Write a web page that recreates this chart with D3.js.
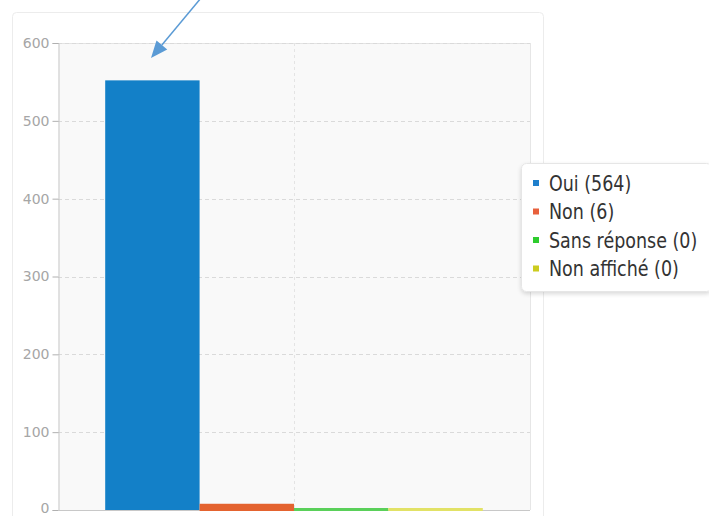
<!DOCTYPE html>
<html>
<head>
<meta charset="utf-8">
<script src="https://cdn.jsdelivr.net/npm/d3@7"></script>
<style>
  html, body { margin: 0; padding: 0; background: #ffffff; }
  svg { display: block; }
</style>
</head>
<body>
<svg id="chart" width="709" height="516"></svg>
<script>
// ---- data ----
const categories = ["Oui", "Non", "Sans réponse", "Non affiché"];
const barValues = [552, 8, 0, 0];          // heights as drawn in the picture
const legendCounts = [564, 6, 0, 0];       // counts shown in the legend
const yTicks = [0, 100, 200, 300, 400, 500, 600];
const barColors = ["#1380c8", "#e4632f", "#5ad05a", "#e2e266"];
const legendColors = ["#1f7fcc", "#e8603c", "#2ecc2e", "#cccc1f"];

const svg = d3.select("#chart");
const plot = { left: 58, right: 530, top: 43, bottom: 510 };

const defs = svg.append("defs");
const flt = defs.append("filter").attr("id", "shadow").attr("x", "-10%").attr("y", "-10%").attr("width", "130%").attr("height", "130%");
flt.append("feDropShadow").attr("dx", 0).attr("dy", 2).attr("stdDeviation", 2).attr("flood-color", "#000").attr("flood-opacity", 0.15);

// outer panel
svg.append("rect")
  .attr("x", 12.5).attr("y", 12.5).attr("width", 531).attr("height", 520)
  .attr("rx", 4).attr("fill", "#ffffff").attr("stroke", "#ececec");

// plot background
svg.append("rect")
  .attr("x", plot.left).attr("y", plot.top)
  .attr("width", plot.right - plot.left).attr("height", plot.bottom - plot.top)
  .attr("fill", "#f9f9f9");
svg.append("line")
  .attr("x1", plot.left).attr("x2", plot.right).attr("y1", plot.top + 0.5).attr("y2", plot.top + 0.5)
  .attr("stroke", "#e4e4e4");
svg.append("line")
  .attr("x1", plot.right + 0.5).attr("x2", plot.right + 0.5).attr("y1", plot.top).attr("y2", plot.bottom)
  .attr("stroke", "#e6e6e6");

// scales
const y = d3.scaleLinear().domain([0, 600]).range([plot.bottom, plot.top]);
const xOuter = d3.scaleBand().domain(["g"]).range([plot.left, plot.right]).paddingInner(0.2).paddingOuter(0.1);
const x = d3.scaleBand().domain(categories).range([xOuter("g"), xOuter("g") + xOuter.bandwidth()]);

// horizontal grid
svg.append("g").selectAll("line").data(yTicks.filter(d => d > 0)).join("line")
  .attr("x1", plot.left).attr("x2", plot.right)
  .attr("y1", d => Math.round(y(d)) + 0.5).attr("y2", d => Math.round(y(d)) + 0.5)
  .attr("stroke", "#dadada").attr("stroke-dasharray", "4,3");
// vertical grid (centre)
const cx = (plot.left + plot.right) / 2;
svg.append("line")
  .attr("x1", Math.round(cx) + 0.5).attr("x2", Math.round(cx) + 0.5)
  .attr("y1", plot.top).attr("y2", plot.bottom)
  .attr("stroke", "#e4e4e4").attr("stroke-dasharray", "3,3");

// y axis
const yAxis = d3.axisLeft(y).tickValues(yTicks).tickSize(6).tickPadding(3);
const ga = svg.append("g").attr("transform", `translate(${plot.left + 0.5},0)`).call(yAxis);
ga.select(".domain").attr("stroke", "#c8c8c8");
ga.selectAll(".tick line").attr("stroke", "#b0b0b0");
ga.selectAll(".tick text").attr("fill", "#a6a6a6")
  .attr("font-family", "DejaVu Sans, sans-serif").attr("font-size", 14)
  .attr("dy", d => d === 0 ? "0.2em" : "0.32em");

// x axis baseline
svg.append("line")
  .attr("x1", plot.left).attr("x2", plot.right)
  .attr("y1", plot.bottom + 0.5).attr("y2", plot.bottom + 0.5)
  .attr("stroke", "#c8c8c8");

// bars
svg.append("g").selectAll("rect").data(categories).join("rect")
  .attr("x", d => x(d))
  .attr("width", x.bandwidth())
  .attr("y", (d, i) => Math.min(y(barValues[i]), plot.bottom - 2))
  .attr("height", (d, i) => Math.max(plot.bottom - y(barValues[i]), 2) + (barValues[i] < 10 ? 1 : 0))
  .attr("fill", (d, i) => barColors[i]);

// legend
const lg = svg.append("g");
lg.append("rect")
  .attr("x", 521.5).attr("y", 163.5).attr("width", 190).attr("height", 128)
  .attr("rx", 5).attr("fill", "#ffffff").attr("stroke", "#e6e6e6")
  .attr("filter", "url(#shadow)");
const rowY0 = 183, rowStep = 28.5;
const items = lg.selectAll("g.item").data(categories).join("g")
  .attr("class", "item")
  .attr("transform", (d, i) => `translate(533,${rowY0 + i * rowStep})`);
items.append("rect")
  .attr("x", 0).attr("y", -3).attr("width", 6).attr("height", 6)
  .attr("fill", (d, i) => legendColors[i]);
items.append("g").attr("transform", "translate(16,0) scale(1,1.22)")
  .append("text")
  .attr("dy", "0.36em")
  .attr("font-family", "DejaVu Sans, sans-serif").attr("font-size", 17.5)
  .attr("fill", "#333")
  .text((d, i) => `${d} (${legendCounts[i]})`);

// annotation arrow
const arrowColor = "#5b9bd5";
const tip = [151, 58], tail = [201, -2];
const ang = Math.atan2(tip[1] - tail[1], tip[0] - tail[0]);
const headLen = 17, headHalf = 7;
const base = [tip[0] - headLen * Math.cos(ang), tip[1] - headLen * Math.sin(ang)];
svg.append("line")
  .attr("x1", tail[0]).attr("y1", tail[1]).attr("x2", base[0]).attr("y2", base[1])
  .attr("stroke", arrowColor).attr("stroke-width", 1.5);
svg.append("path")
  .attr("d", d3.line()([
    tip,
    [base[0] + headHalf * Math.sin(ang), base[1] - headHalf * Math.cos(ang)],
    [base[0] - headHalf * Math.sin(ang), base[1] + headHalf * Math.cos(ang)]
  ]) + "Z")
  .attr("fill", arrowColor);
</script>
</body>
</html>
